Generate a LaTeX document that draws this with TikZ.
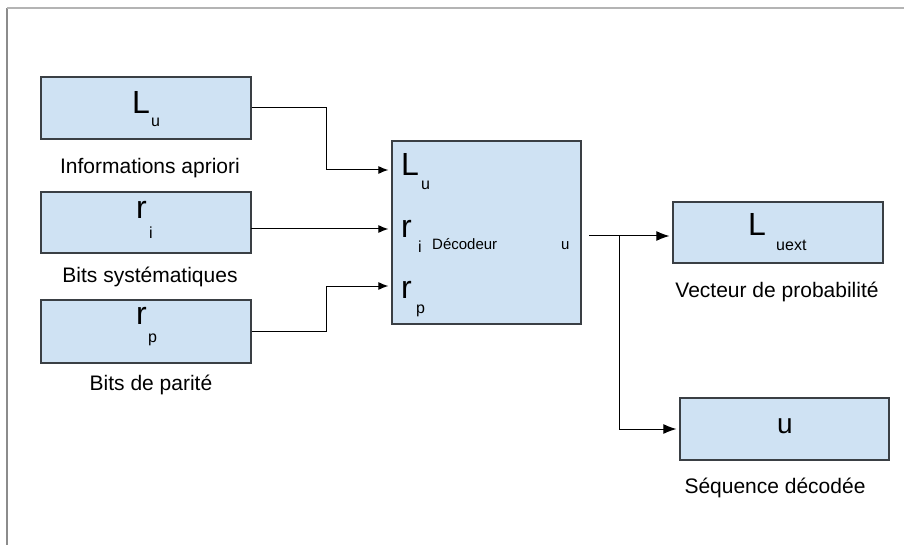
\documentclass[tikz,border=0pt]{standalone}
\usepackage{fontspec}
\setmainfont{Liberation Sans}
\usetikzlibrary{arrows.meta,calc}
\newcommand{\fsz}[1]{\fontsize{#1}{#1}\selectfont}
\definecolor{boxblue}{HTML}{CFE2F3}
\definecolor{boxedge}{HTML}{3A3F44}
\definecolor{framegray}{HTML}{B4B4B4}
\definecolor{framedark}{HTML}{8C8C8C}
\begin{document}
\begin{tikzpicture}[x=1pt,y=-1pt,
  box/.style={draw=boxedge, line width=1.3pt, fill=boxblue, inner sep=0pt},
  lbl/.style={font=\fsz{21}, inner sep=0pt},
  big/.style={font=\fsz{32}, inner sep=0pt, anchor=base west},
  sub/.style={font=\fsz{16}, inner sep=0pt, anchor=base west},
  small/.style={font=\fsz{15}, inner sep=0pt, anchor=base west},
  conn/.style={line width=1pt, -{Latex[length=10pt,width=8pt]}, shorten >=3pt},
  bigconn/.style={line width=1pt, -{Latex[length=13pt,width=10pt]}, shorten >=3pt},
  frameline/.style={line width=1.6pt}]
\useasboundingbox (0,0) rectangle (904,545);
% frame
\coordinate (fa) at (7,545);
\coordinate (fb) at (7,8);
\coordinate (fc) at (904,8);
\draw[frameline, draw=framedark] (fa) -- (fb);
\draw[frameline, draw=framegray] (fb) -- (fc);

% left boxes
\node[box, minimum width=210pt, minimum height=62pt] (lu) at (146,108) {};
\node[box, minimum width=210pt, minimum height=61pt] (ri) at (146,222.5) {};
\node[box, minimum width=210pt, minimum height=63pt] (rp) at (146,331.5) {};
\node[big] (luL) at (132,114) {L};
\node[sub] (luS) at (151,127) {u};
\node[big] (riR) at (136,219) {r};
\node[sub] (riS) at (149,239) {i};
\node[big] (rpR) at (136,324) {r};
\node[sub] (rpS) at (148,342) {p};
\node[lbl] (t1) at (150,168) {Informations apriori};
\node[lbl] (t2) at (150,277) {Bits systématiques};
\node[lbl] (t3) at (151,385) {Bits de parité};

% decoder
\node[box, minimum width=189pt, minimum height=183pt] (dec) at (486.5,232.5) {};
\node[big] (dL) at (401,176) {L};
\node[sub] (dLs) at (421,190) {u};
\node[big] (dR) at (401,238) {r};
\node[sub] (dRs) at (418,252) {i};
\node[small] (dtxt) at (432,250) {Décodeur};
\node[small] (du) at (561,250) {u};
\node[big] (dP) at (401,298) {r};
\node[sub] (dPs) at (416,313) {p};

% right boxes
\node[box, minimum width=210pt, minimum height=61pt] (lx) at (778,232.5) {};
\node[big] (lxL) at (748,236) {L};
\node[sub] (lxS) at (776,251) {uext};
\node[lbl] (t4) at (777,292) {Vecteur de probabilité};
\node[box, minimum width=209pt, minimum height=62pt] (ub) at (784.5,429) {};
\node[font=\fsz{28}, inner sep=0pt, anchor=base west] (ubT) at (777,433) {u};
\node[lbl] (t5) at (775,488) {Séquence décodée};

% connectors
\coordinate (j1) at (326,170);
\coordinate (j3) at (326,286);
\coordinate (s2) at (251,229);
\draw[conn] (lu.east) -| (j1) -- (dec.west |- j1);
\draw[conn] (s2) -- (dec.west |- s2);
\draw[conn] (rp.east) -| (j3) -- (dec.west |- j3);
\coordinate (o) at (589,236);
\coordinate (br) at (619,236);
\draw[bigconn] (o) -- (lx.west |- o);
\draw[bigconn] (br) |- (ub.west);
\end{tikzpicture}
\end{document}
